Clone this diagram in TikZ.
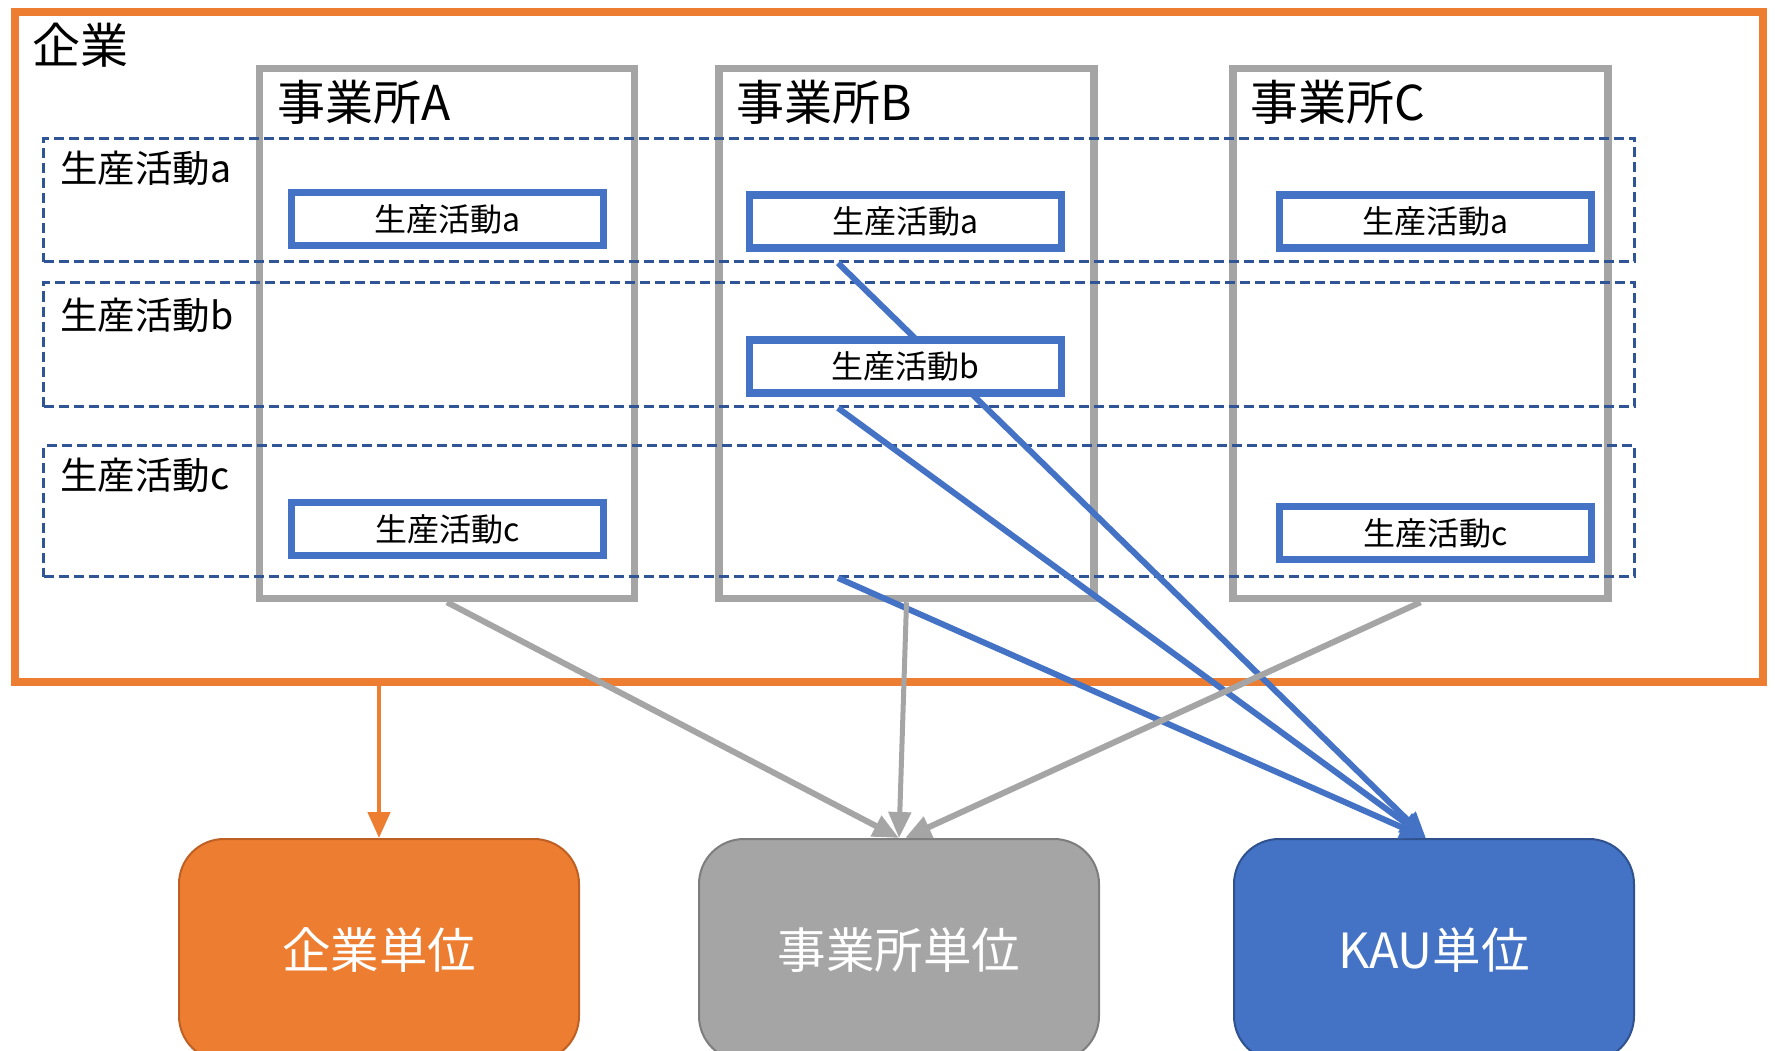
\documentclass[tikz,border=0pt]{standalone}
\usepackage{fontspec}
\setmainfont{Noto Sans CJK JP}
\usepackage{xcolor}
\usepackage{tikz}
\usetikzlibrary{arrows.meta}
\definecolor{firmorange}{RGB}{237,125,49}
\definecolor{firmdark}{RGB}{190,95,35}
\definecolor{estgray}{RGB}{165,165,165}
\definecolor{estdark}{RGB}{125,125,125}
\definecolor{kaublue}{RGB}{68,114,196}
\definecolor{kaudark}{RGB}{47,82,143}
\definecolor{rowblue}{RGB}{47,85,151}
\newcommand{\fstitle}{\fontsize{48pt}{54pt}\selectfont}
\newcommand{\fsrow}{\fontsize{37.5pt}{43pt}\selectfont}
\newcommand{\fsact}{\fontsize{32pt}{37pt}\selectfont}
\newcommand{\fsunit}{\fontsize{48.5pt}{55pt}\selectfont}
\tikzset{
  office/.style={draw=estgray,line width=7.5pt,minimum width=375pt,minimum height=530pt,inner sep=0pt},
  band/.style={draw=rowblue,line width=3pt,dash pattern=on 10pt off 5pt,minimum width=1591pt,inner sep=0pt},
  actbox/.style={draw=kaublue,fill=white,line width=7.5pt,minimum width=312pt,minimum height=53pt,inner sep=0pt,font=\fsact},
  unitbox/.style={rounded corners=45pt,line width=2pt,minimum width=400pt,minimum height=222pt,text=white,font=\fsunit},
  tip/.style={-{Triangle[length=26pt,width=22pt]}}
}

\begin{document}
\begin{tikzpicture}[x=1pt,y=-1pt]
    \clip (0,0) rectangle (1775,1051);
    % enterprise frame
    \node[draw=firmorange,line width=8pt,minimum width=1748pt,minimum height=669pt,inner sep=0pt]
      (firm) at (888.5,347) {};
    \node[anchor=west,font=\fstitle] (firmlabel) at (29,45) {企業};

    % establishments
    \node[office] (offA) at (447,333.5) {};
    \node[office] (offB) at (906.5,333.5) {};
    \node[office] (offC) at (1420.5,333.5) {};
    \node[anchor=west,font=\fstitle,inner sep=0pt] (titleA) at (277,102) {事業所A};
    \node[anchor=west,font=\fstitle,inner sep=0pt] (titleB) at (736,102) {事業所B};
    \node[anchor=west,font=\fstitle,inner sep=0pt] (titleC) at (1250,102) {事業所C};

    % activity rows
    \node[band,minimum height=123pt] (rowA) at (839,200) {};
    \node[band,minimum height=124pt] (rowB) at (839,344.5) {};
    \node[band,minimum height=131pt] (rowC) at (839,511) {};
    \node[anchor=west,font=\fsrow,inner sep=0pt] (labA) at (60,168) {生産活動a};
    \node[anchor=west,font=\fsrow,inner sep=0pt] (labB) at (60,315) {生産活動b};
    \node[anchor=west,font=\fsrow,inner sep=0pt] (labC) at (60,475) {生産活動c};

    % units
    \node[unitbox,fill=firmorange,draw=firmdark] (uFirm) at (379,950) {企業単位};
    \node[unitbox,fill=estgray,draw=estdark] (uEst) at (899,950) {事業所単位};
    \node[unitbox,fill=kaublue,draw=kaudark] (uKAU) at (1434,950) {KAU単位};

    % KAU links
    \coordinate (splitB) at (838,0);
    \draw[tip,draw=kaublue,fill=kaublue,line width=6pt] (rowA.south -| splitB) -- ([xshift=-8pt]uKAU.north);
    \draw[tip,draw=kaublue,fill=kaublue,line width=6pt] (rowB.south -| splitB) -- ([xshift=-8pt]uKAU.north);
    \draw[tip,draw=kaublue,fill=kaublue,line width=6pt] (rowC.south -| splitB) -- ([xshift=-8pt]uKAU.north);

    \node[actbox] (actAa) at (447.5,219) {生産活動a};
    \node[actbox] (actAc) at (447.5,529) {生産活動c};
    \node[actbox] (actBa) at (905.5,221.5) {生産活動a};
    \node[actbox] (actBb) at (905.5,366.5) {生産活動b};
    \node[actbox] (actCa) at (1435.5,221.5) {生産活動a};
    \node[actbox] (actCc) at (1435.5,533) {生産活動c};

    % establishment links
    \draw[tip,draw=estgray,fill=estgray,line width=6pt] (offA.south) -- (uEst.north);
    \draw[tip,draw=estgray,fill=estgray,line width=5pt] (offB.south) -- (uEst.north);
    \draw[tip,draw=estgray,fill=estgray,line width=6pt] (offC.south) -- ([xshift=6pt]uEst.north);

    % enterprise link
    \draw[tip,draw=firmorange,fill=firmorange,line width=4.5pt] (firm.south -| uFirm.north) -- (uFirm.north);
\end{tikzpicture}
\end{document}
